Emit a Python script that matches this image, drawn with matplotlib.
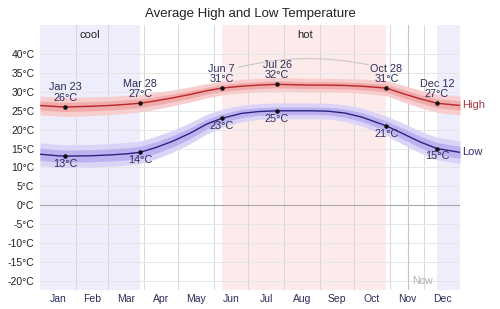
import numpy as np
import matplotlib.pyplot as plt

# datos ----------------------------------------------------------------

days = [0, 15, 22, 45, 60, 75, 87, 100, 115, 130, 145, 158, 175, 190, 206,
        220, 235, 250, 265, 280, 301, 315, 330, 345, 365]
high = [26.4, 26.1, 26.0, 26.2, 26.4, 26.7, 27.0, 27.6, 28.4, 29.3, 30.3, 31.0,
        31.5, 31.8, 32.0, 31.9, 31.8, 31.8, 31.7, 31.5, 31.0, 29.6, 28.2, 27.0, 26.4]
low = [13.5, 13.1, 13.0, 13.1, 13.3, 13.6, 14.0, 15.2, 16.9, 19.0, 21.5, 23.0,
       24.3, 24.8, 25.0, 25.0, 25.0, 24.9, 24.4, 23.3, 21.0, 19.0, 16.8, 15.0, 14.0]
high_outer = [2.5, 2.5, 2.5, 2.5, 2.4, 2.4, 2.3, 2.2, 2.1, 2.0, 1.9, 1.8,
              1.8, 1.8, 1.8, 1.8, 1.8, 1.8, 1.8, 1.9, 2.0, 2.2, 2.3, 2.4, 2.5]
high_inner = [1.2, 1.2, 1.2, 1.2, 1.2, 1.2, 1.1, 1.1, 1.0, 1.0, 0.9, 0.9,
              0.9, 0.9, 0.9, 0.9, 0.9, 0.9, 0.9, 0.9, 1.0, 1.1, 1.1, 1.2, 1.2]
low_outer = [3.0, 3.0, 3.0, 3.0, 3.0, 3.0, 3.0, 3.0, 2.9, 2.8, 2.6, 2.4,
             2.2, 2.1, 2.1, 2.1, 2.1, 2.1, 2.2, 2.4, 2.6, 2.8, 2.9, 3.0, 3.0]
low_inner = [1.6, 1.6, 1.6, 1.6, 1.6, 1.6, 1.6, 1.5, 1.5, 1.4, 1.3, 1.2,
             1.1, 1.0, 1.0, 1.0, 1.0, 1.0, 1.1, 1.2, 1.3, 1.4, 1.5, 1.6, 1.6]

# puntos anotados
mark_days = [22, 87, 158, 206, 301, 345]
mark_names = ["Jan 23", "Mar 28", "Jun 7", "Jul 26", "Oct 28", "Dec 12"]
mark_high = [26, 27, 31, 32, 31, 27]
mark_low = [13, 14, 23, 25, 21, 15]

month_names = ["Jan", "Feb", "Mar", "Apr", "May", "Jun",
               "Jul", "Aug", "Sep", "Oct", "Nov", "Dec"]
month_starts = [0, 31, 59, 90, 120, 151, 181, 212, 243, 273, 304, 334, 365]
yticks = list(range(-20, 45, 5))

cool_spans = [(0, 87), (345, 365)]
hot_span = (158, 301)
now_day = 320

# figura ---------------------------------------------------------------

plt.rcParams["font.family"] = ["Liberation Sans", "DejaVu Sans"]

fig = plt.figure(figsize=(5.0, 3.09), dpi=100)
ax = fig.add_axes([0.08, 0.062, 0.84, 0.857])

ax.set_xlim(0, 365)
ax.set_ylim(-22.4, 47.7)

for a, b in cool_spans:
    ax.axvspan(a, b, color="#ededfb", lw=0, zorder=0)
ax.axvspan(*hot_span, color="#fdebeb", lw=0, zorder=0)

for m in month_starts[1:-1]:
    ax.axvline(m, color="#d8d8d8", lw=0.7, zorder=1)
for t in yticks:
    ax.axhline(t, color="#e6e6e6", lw=0.7, zorder=1)
ax.axhline(0, color="#a8a8a8", lw=0.8, zorder=1)
ax.axvline(now_day, color="#c4c4c4", lw=0.8, zorder=1)

d = np.array(days)
hi = np.array(high)
lo = np.array(low)
ax.fill_between(d, hi - np.array(high_outer), hi + np.array(high_outer),
                color="#f7cdcd", lw=0, zorder=2)
ax.fill_between(d, hi - np.array(high_inner), hi + np.array(high_inner),
                color="#f0abab", lw=0, zorder=2)
ax.fill_between(d, lo - np.array(low_outer), lo + np.array(low_outer),
                color="#dbd4f6", lw=0, zorder=2)
ax.fill_between(d, lo - np.array(low_inner), lo + np.array(low_inner),
                color="#bdb1ef", lw=0, zorder=2)
ax.plot(d, hi, color="#b8252a", lw=1.0, zorder=3)
ax.plot(d, lo, color="#2a2382", lw=1.0, zorder=3)

ax.scatter(mark_days, mark_high, s=5, color="#111111", zorder=4)
ax.scatter(mark_days, mark_low, s=5, color="#111111", zorder=4)

txt_col = "#2b2d5a"
for x, name, h, l in zip(mark_days, mark_names, mark_high, mark_low):
    ax.annotate(f"{name}\n{h}°C", (x, h), xytext=(0, 3), textcoords="offset points",
                ha="center", va="bottom", fontsize=7.8, color=txt_col,
                linespacing=1.05, zorder=5)
    ax.annotate(f"{l}°C", (x, l), xytext=(0, -2), textcoords="offset points",
                ha="center", va="top", fontsize=7.8, color=txt_col, zorder=5)

# arco de la temporada cálida
ax.annotate("", xy=(288, 37.0), xytext=(170, 36.3),
            arrowprops=dict(arrowstyle="-", color="#c8c8c8", lw=0.8,
                            connectionstyle="arc3,rad=-0.12"), zorder=2)

ax.text(367, high[-1], "High", ha="left", va="center", fontsize=8, color="#a8383a",
        clip_on=False)
ax.text(367, low[-1], "Low", ha="left", va="center", fontsize=8, color="#2f2f78",
        clip_on=False)

ax.text(np.mean(cool_spans[0]), 45, "cool", ha="center", va="center",
        fontsize=8, color="#222222")
ax.text(np.mean(hot_span) + 1, 45, "hot", ha="center", va="center",
        fontsize=8, color="#222222")
ax.text(now_day + 12, -20, "Now", ha="center", va="center", fontsize=7.5,
        color="#b0b0b0")

ax.set_yticks(yticks)
ax.set_yticklabels([f"{t}°C" for t in yticks], fontsize=7.5, color="#222222")
ax.set_xticks(month_starts)
ax.set_xticklabels([])
mids = [(a + b) / 2 for a, b in zip(month_starts[:-1], month_starts[1:])]
ax.set_xticks(mids, minor=True)
ax.set_xticklabels(month_names, minor=True, fontsize=7.5, color="#2b2d5a")
ax.tick_params(axis="both", which="both", length=0, pad=3)
ax.tick_params(axis="y", pad=4)
for s in ax.spines.values():
    s.set_visible(False)

fig.suptitle("Average High and Low Temperature", y=0.975, fontsize=9.5,
             color="#222222")

fig.savefig("out.png", dpi=100)
